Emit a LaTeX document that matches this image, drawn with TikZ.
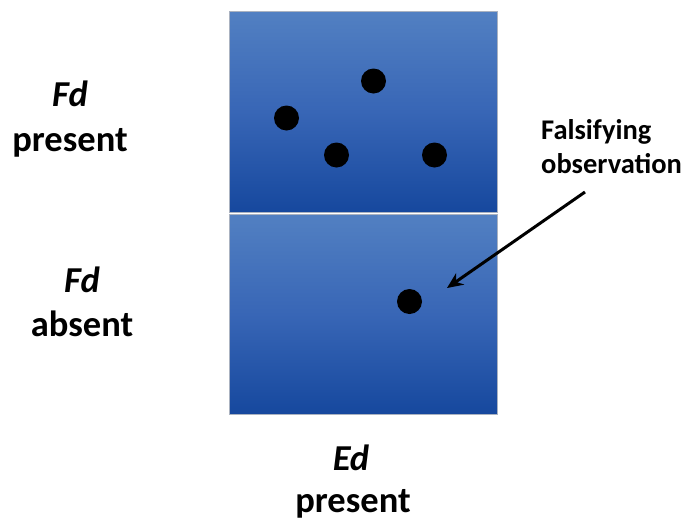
\documentclass[tikz,border=0pt]{standalone}
\usepackage{fontspec}
\setmainfont{Carlito}
\usetikzlibrary{arrows.meta}
\definecolor{boxtop}{RGB}{82,128,194}
\definecolor{boxmid}{RGB}{56,102,182}
\definecolor{boxbot}{RGB}{22,72,158}
\definecolor{boxedge}{RGB}{170,178,192}
\tikzset{
  cell/.style={draw=boxedge, line width=1pt, top color=boxtop, bottom color=boxbot, middle color=boxmid},
  obs/.style={circle, fill=black, minimum size=25pt, inner sep=0pt},
  biglab/.style={font=\fontsize{36.5}{44}\selectfont\bfseries, anchor=base, inner sep=0pt},
  smalllab/.style={font=\fontsize{28.5}{34}\selectfont\bfseries, anchor=base west, inner sep=0pt},
  pointer/.style={-{Stealth[length=16pt,width=14pt]}, line width=3pt, black}
}
\begin{document}
\begin{tikzpicture}[x=1pt,y=-1pt]
\useasboundingbox (0,0) rectangle (689,523);
\fill[white] (0,0) rectangle (689,523);
% boxes
\path[cell] (229,11) rectangle (497,212);
\path[cell] (229,214) rectangle (497,414);
% observations
\node[obs] (d1) at (286.5,118) {};
\node[obs] (d2) at (373.5,81) {};
\node[obs] (d3) at (336.5,155) {};
\node[obs] (d4) at (434.5,155) {};
\node[obs] (d5) at (409.5,301.5) {};
% labels
\node[biglab] (fd1) at (70,106) {\itshape Fd};
\node[biglab] (fp) at (70,151) {present};
\node[biglab] (fd2) at (82,292) {\itshape Fd};
\node[biglab] (fa) at (82,336) {absent};
\node[biglab] (ed) at (351,470) {\itshape Ed};
\node[biglab] (ep) at (353,512) {present};
\node[smalllab] (f1) at (541,139) {Falsifying};
\node[smalllab] (f2) at (541,173) {observation};
% arrow
\coordinate (as) at (585,192);
\coordinate (at) at (447,288);
\draw[pointer] (as) -- (at);
\end{tikzpicture}
\end{document}
